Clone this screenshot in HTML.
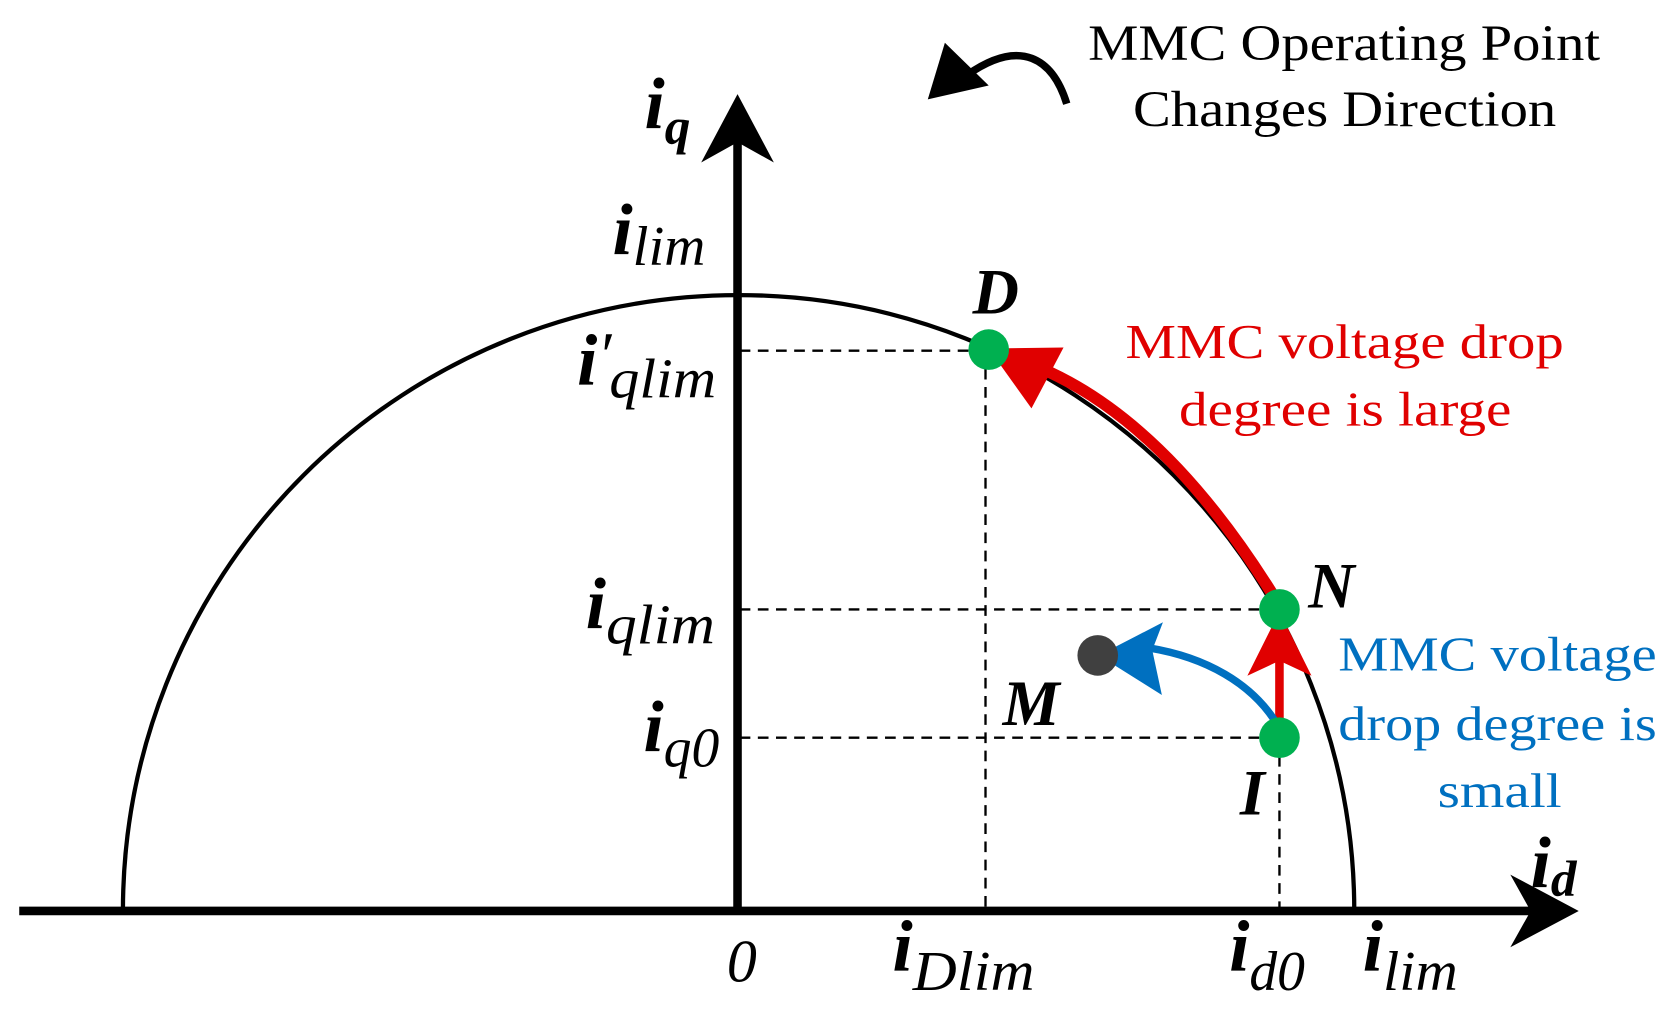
<!DOCTYPE html>
<html><head><meta charset="utf-8"><style>
html,body{margin:0;padding:0;background:#fff;}
svg{display:block}
text{font-family:"Liberation Serif",serif;}
.b{font-weight:bold;font-style:italic;}
.it{font-style:italic;font-weight:normal;}
</style></head><body>
<svg width="1676" height="1020" viewBox="0 0 1568 954" preserveAspectRatio="none" xmlns="http://www.w3.org/2000/svg">
<path d="M115,852 A576,576 0 0 1 1267,852" fill="none" stroke="#000" stroke-width="4"/>
<g stroke="#000" stroke-width="2.2" stroke-dasharray="10,7" fill="none">
<path d="M692,328 H922 M922,328 V852"/>
<path d="M692,570 H1197"/>
<path d="M692,690 H1197 M1197,690 V852"/>
</g>
<line x1="18" y1="852" x2="1440" y2="852" stroke="#000" stroke-width="8"/>
<polygon points="1477,852 1413,818 1432,852 1413,886" fill="#000"/>
<line x1="690" y1="852" x2="690" y2="130" stroke="#000" stroke-width="8"/>
<polygon points="690,88 656,152 690,133 724,152" fill="#000"/>
<path d="M998,97 C985,55 955,35 905,70" fill="none" stroke="#000" stroke-width="7"/>
<polygon points="868,93 884,40 925,80" fill="#000"/>
<path d="M1190,555 Q1090,395 975,345" fill="none" stroke="#e00000" stroke-width="11"/>
<polygon points="925,326 995,325 965,382" fill="#e00000"/>
<line x1="1197" y1="675" x2="1197" y2="615" stroke="#e00000" stroke-width="8"/>
<polygon points="1197,572 1167,632 1197,618 1227,632" fill="#e00000"/>
<path d="M1192,673 C1170,640 1130,615 1075,606" fill="none" stroke="#0070c0" stroke-width="7"/>
<polygon points="1028,613 1088,582 1078,608 1087,650" fill="#0070c0"/>
<circle cx="925" cy="327" r="19" fill="#00b050"/>
<circle cx="1197" cy="570" r="19" fill="#00b050"/>
<circle cx="1197" cy="690" r="19" fill="#00b050"/>
<circle cx="1027" cy="613" r="19" fill="#404040"/>
<text x="1018" y="56" font-size="48" textLength="479" lengthAdjust="spacingAndGlyphs">MMC Operating Point</text>
<text x="1060" y="118" font-size="48" textLength="396" lengthAdjust="spacingAndGlyphs">Changes Direction</text>
<text x="1053" y="335" font-size="46" fill="#e00000" textLength="410" lengthAdjust="spacingAndGlyphs">MMC voltage drop</text>
<text x="1103" y="398" font-size="46" fill="#e00000" textLength="311" lengthAdjust="spacingAndGlyphs">degree is large</text>
<text x="1252" y="627" font-size="46" fill="#0070c0" textLength="298" lengthAdjust="spacingAndGlyphs">MMC voltage</text>
<text x="1252" y="692" font-size="46" fill="#0070c0" textLength="298" lengthAdjust="spacingAndGlyphs">drop degree is</text>
<text x="1345" y="755" font-size="46" fill="#0070c0" textLength="116" lengthAdjust="spacingAndGlyphs">small</text>
<text x="910" y="293" font-size="60" class="b">D</text>
<text x="1224" y="568" font-size="60" class="b">N</text>
<text x="938" y="678" font-size="60" class="b">M</text>
<text x="1160" y="762" font-size="60" class="b">I</text>
<text x="603" y="120" font-size="68" class="b">i<tspan font-size="48" dy="14">q</tspan></text>
<text x="1432" y="830" font-size="68" class="b">i<tspan font-size="48" dy="8">d</tspan></text>
<text x="573" y="238" font-size="68" class="b">i<tspan class="it" font-size="52" dy="10" textLength="68" lengthAdjust="spacingAndGlyphs">lim</tspan></text>
<text x="540" y="360" font-size="68" class="b">i<tspan class="it" font-size="60" dy="-8">′</tspan><tspan class="it" font-size="52" dx="-2" dy="20" textLength="100" lengthAdjust="spacingAndGlyphs">qlim</tspan></text>
<text x="548" y="588" font-size="68" class="b">i<tspan class="it" font-size="52" dy="14" textLength="102" lengthAdjust="spacingAndGlyphs">qlim</tspan></text>
<text x="602" y="703" font-size="68" class="b">i<tspan class="it" font-size="52" dy="14">q0</tspan></text>
<text x="680" y="918" font-size="56" class="it">0</text>
<text x="835" y="908" font-size="68" class="b">i<tspan class="it" font-size="52" dy="18" textLength="114" lengthAdjust="spacingAndGlyphs">Dlim</tspan></text>
<text x="1150" y="908" font-size="68" class="b">i<tspan class="it" font-size="52" dy="18">d0</tspan></text>
<text x="1275" y="908" font-size="68" class="b">i<tspan class="it" font-size="52" dy="18" textLength="70" lengthAdjust="spacingAndGlyphs">lim</tspan></text>
</svg>
</body></html>
